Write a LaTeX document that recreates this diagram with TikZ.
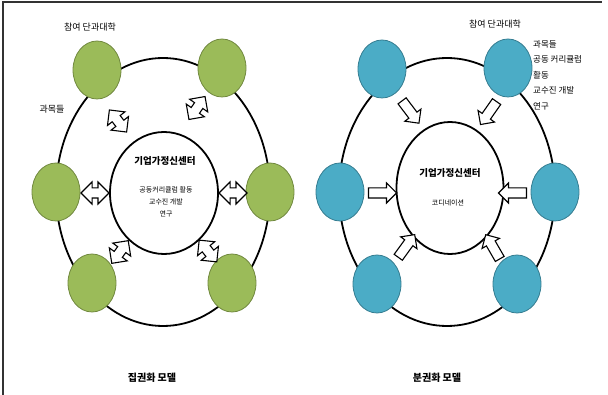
\documentclass[tikz,border=0pt]{standalone}
\usepackage{fontspec}
\setmainfont{Noto Sans CJK KR}
\usetikzlibrary{shapes.arrows,shapes.geometric}
\definecolor{gfill}{RGB}{155,187,89}
\definecolor{gline}{RGB}{113,137,63}
\definecolor{bfill}{RGB}{75,172,198}
\definecolor{bline}{RGB}{53,125,145}
\begin{document}
\begin{tikzpicture}[x=1pt,y=-1pt,
  ring/.style={draw=black,line width=1.8pt},
  gnode/.style={ellipse,draw=gline,line width=0.8pt,fill=gfill,minimum width=48pt,minimum height=58pt,inner sep=0},
  bnode/.style={ellipse,draw=bline,line width=0.8pt,fill=bfill,minimum width=48pt,minimum height=58pt,inner sep=0},
  darrow/.style={double arrow,draw=black,line width=1.1pt,fill=white,minimum height=28pt,double arrow head extend=6pt,inner xsep=0pt,inner ysep=4.5pt,font=\tiny},
  sarrow/.style={single arrow,draw=black,line width=1.1pt,fill=white,minimum height=28pt,single arrow head extend=5pt,inner xsep=0pt,inner ysep=4.5pt,font=\tiny},
  lbl/.style={font=\fontsize{9}{10}\selectfont,inner sep=0},
  ttl/.style={font=\fontsize{9.5}{11}\selectfont\bfseries,inner sep=0},
  sml/.style={font=\fontsize{7}{12}\selectfont,inner sep=0,align=center},
  captxt/.style={font=\fontsize{10}{12}\selectfont\bfseries,inner sep=0}]
\useasboundingbox (0,0) rectangle (608,395);
% frame
\draw[draw=black!80,line width=1.2pt] (3,395) -- (3,2) -- (602,2);
% ---------- left diagram ----------
\node[ellipse,ring,minimum width=214pt,minimum height=268pt] (LO) at (163,192) {};
\node[ellipse,ring,fill=white,minimum width=108pt,minimum height=122pt] (LI) at (164,193) {};
\node[gnode] (L1) at (97,70) {};
\node[gnode] (L2) at (222,68) {};
\node[gnode] (L3) at (56,192) {};
\node[gnode] (L4) at (270,192) {};
\node[gnode] (L5) at (92,283) {};
\node[gnode] (L6) at (232,283) {};
\node[darrow,rotate=-52] (LA1) at (118,121) {};
\node[darrow,rotate=55] (LA2) at (197,108) {};
\node[darrow] (LA3) at (95,193) {};
\node[darrow] (LA4) at (233,193) {};
\node[darrow,rotate=54] (LA5) at (120,252) {};
\node[darrow,rotate=-51] (LA6) at (208,251) {};
\node[lbl] (Lt1) at (90,27) {참여 단과대학};
\node[lbl] (Lt2) at (52,109) {과목들};
\node[ttl] (Lt3) at (165,161) {기업가정신센터};
\node[sml] (Lt4) at (166,202) {공동커리큘럼 활동\\교수진 개발\\연구};
\node[captxt] (Lc) at (152,378) {집권화 모델};
% ---------- right diagram ----------
\node[ellipse,ring,minimum width=216pt,minimum height=268pt] (RO) at (447,192) {};
\node[ellipse,ring,fill=white,minimum width=107pt,minimum height=132pt] (RI) at (450,188) {};
\node[bnode] (R1) at (382,69) {};
\node[bnode] (R2) at (508,68) {};
\node[bnode] (R3) at (340,192) {};
\node[bnode] (R4) at (555,192) {};
\node[bnode] (R5) at (377,284) {};
\node[bnode] (R6) at (517,284) {};
\node[sarrow,rotate=-53] (RA1) at (409,110) {};
\node[sarrow,rotate=-125] (RA2) at (490,111) {};
\node[sarrow] (RA3) at (380,193) {};
\node[sarrow,rotate=180] (RA4) at (515,193) {};
\node[sarrow,rotate=54] (RA5) at (405,248) {};
\node[sarrow,rotate=120] (RA6) at (494,249) {};
\node[lbl] (Rt1) at (495,24) {참여 단과대학};
\node[font=\fontsize{8.5}{15.5}\selectfont,inner sep=0,align=left,anchor=north west] (Rt2) at (533,40) {과목들\\공동 커리큘럼\\활동\\교수진 개발\\연구};
\node[ttl] (Rt3) at (450,173) {기업가정신센터};
\node[sml] (Rt4) at (448,203) {코디네이션};
\node[captxt] (Rc) at (437,378) {분권화 모델};
\end{tikzpicture}
\end{document}
